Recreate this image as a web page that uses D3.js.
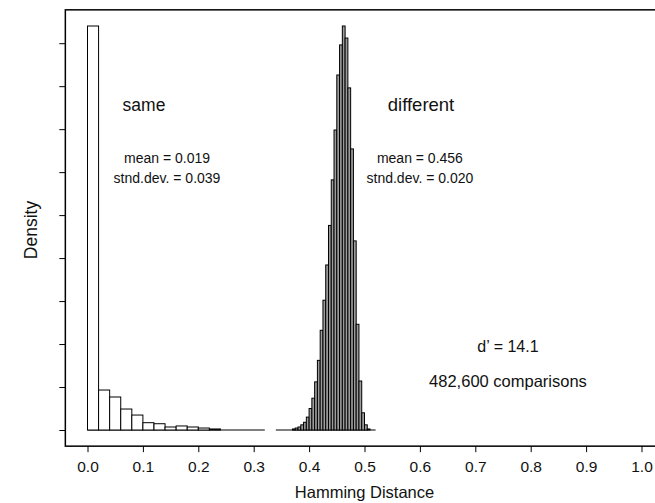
<!DOCTYPE html>
<html>
<head>
<meta charset="utf-8">
<script src="https://cdn.jsdelivr.net/npm/d3@7"></script>
<style>
  body { margin: 0; background: #fff; }
  svg { display: block; font-family: "Liberation Sans", Arial, Helvetica, sans-serif; }
</style>
</head>
<body>
<svg id="chart" width="655" height="503"></svg>
<script>
// "same" comparisons: bins of 0.02 starting at 0
const sameStart = 0
const sameBin = 0.02
const sameDensity = [47, 4.65, 3.84, 2.44, 1.74, 0.85, 0.73, 0.35, 0.47, 0.35, 0.23, 0.12, 0, 0, 0, 0]

// "different" comparisons: bins of 0.005 starting at 0.34
const diffStart = 0.34
const diffBin = 0.005
const diffDensity = [0, 0, 0, 0, 0, 0,
    0.12, 0.23, 0.35, 0.6, 0.9, 1.5, 2.5, 3.7, 5.6, 8.1,
    11.6, 15.1, 19.2, 23.8, 29.1, 34.9, 41.3, 44.8, 47.0, 45.6,
    39.8, 32.7, 22.0, 12.3, 5.7, 2.0, 0.6, 0.12, 0, 0]

const xTicks = [0, 0.1, 0.2, 0.3, 0.4, 0.5, 0.6, 0.7, 0.8, 0.9, 1.0]
const yTicks = [0, 5, 10, 15, 20, 25, 30, 35, 40, 45]

const sameLabels = ['same', 'mean = 0.019', 'stnd.dev. = 0.039']
const diffLabels = ['different', 'mean = 0.456', 'stnd.dev. = 0.020']
const summaryLabels = ['d\u2019 = 14.1', '482,600 comparisons']

const svg = d3.select('#chart')

const x = d3.scaleLinear().domain([0, 1]).range([87.5, 641.5])
const yMax = d3.max(sameDensity.concat(diffDensity))
const y = d3.scaleLinear().domain([0, yMax]).range([430, 26])

// plot box (R style, 4% padding on each side)
const boxLeft = x(-0.04), boxRight = x(1.04)
const boxTop = y(yMax * 1.04), boxBottom = y(-yMax * 0.04)

function bins(start, width, values) {
    return values.map((v, i) => ({ x0: start + i * width, x1: start + (i + 1) * width, v: v }))
}

function histogram(data, fill) {
    const g = svg.append('g')
    g.append('line')
        .attr('x1', x(data[0].x0))
        .attr('x2', x(data[data.length - 1].x1))
        .attr('y1', y(0))
        .attr('y2', y(0))
        .attr('stroke', '#000')
        .attr('stroke-width', 1.2)
    g.selectAll('rect')
        .data(data.filter(d => d.v > 0))
        .join('rect')
        .attr('x', d => x(d.x0))
        .attr('y', d => y(d.v))
        .attr('width', d => x(d.x1) - x(d.x0))
        .attr('height', d => y(0) - y(d.v))
        .attr('fill', fill)
        .attr('stroke', '#000')
        .attr('stroke-width', 1)
}

histogram(bins(sameStart, sameBin, sameDensity), '#fff')
histogram(bins(diffStart, diffBin, diffDensity), '#9c9c9c')

// box
svg.append('rect')
    .attr('x', boxLeft)
    .attr('y', boxTop)
    .attr('width', boxRight - boxLeft)
    .attr('height', boxBottom - boxTop)
    .attr('fill', 'none')
    .attr('stroke', '#000')
    .attr('stroke-width', 1.5)

// axes
const xAxis = svg.append('g')
    .attr('transform', `translate(0,${boxBottom})`)
    .call(d3.axisBottom(x).tickValues(xTicks).tickFormat(d3.format('.1f')).tickSize(6).tickPadding(9))
xAxis.select('.domain').remove()
xAxis.selectAll('text').attr('font-size', 15.5).attr('font-family', null).attr('fill', '#111')
xAxis.selectAll('line').attr('stroke-width', 1)

const yAxis = svg.append('g')
    .attr('transform', `translate(${boxLeft},0)`)
    .call(d3.axisLeft(y).tickValues(yTicks).tickFormat('').tickSize(6))
yAxis.select('.domain').remove()
yAxis.selectAll('line').attr('stroke-width', 1)

// axis titles
svg.append('text')
    .attr('x', (x(0) + x(1)) / 2)
    .attr('y', 498)
    .attr('text-anchor', 'middle')
    .attr('font-size', 16.5)
    .attr('fill', '#111')
    .text('Hamming Distance')

svg.append('text')
    .attr('transform', `translate(37,${(boxTop + boxBottom) / 2 + 2}) rotate(-90)`)
    .attr('text-anchor', 'middle')
    .attr('font-size', 17.5)
    .attr('fill', '#111')
    .text('Density')

// annotations, placed in data coordinates
function label(txt, xv, yv, size) {
    svg.append('text')
        .attr('x', x(xv))
        .attr('y', y(yv))
        .attr('text-anchor', 'middle')
        .attr('font-size', size)
        .attr('fill', '#111')
        .text(txt)
}

label(sameLabels[0], 0.102, 37.1, 17.5)
label(sameLabels[1], 0.1435, 31.06, 14)
label(sameLabels[2], 0.1435, 28.73, 14)
label(diffLabels[0], 0.602, 37.1, 18.5)
label(diffLabels[1], 0.6, 31.06, 14)
label(diffLabels[2], 0.6, 28.73, 14)
label(summaryLabels[0], 0.759, 9.07, 16)
label(summaryLabels[1], 0.759, 5.0, 16.5)
</script>
</body>
</html>
